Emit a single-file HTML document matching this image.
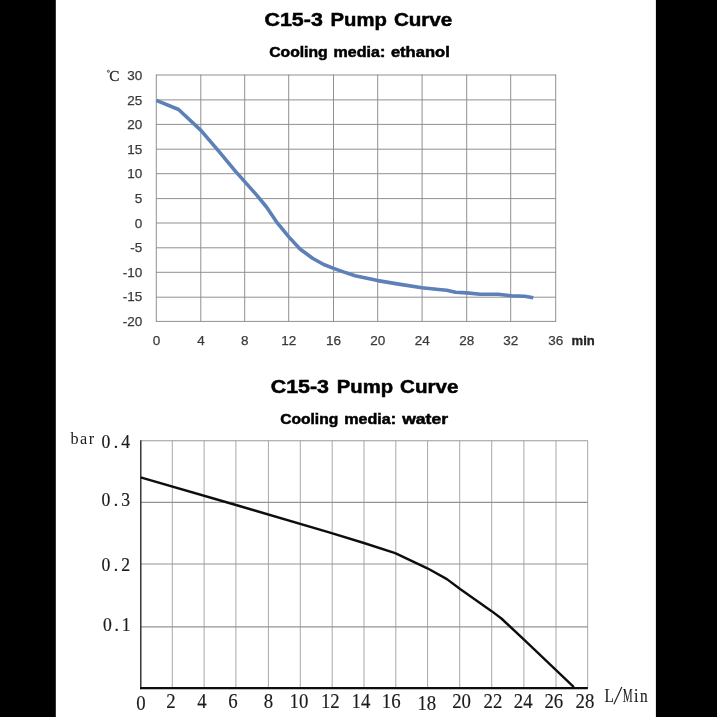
<!DOCTYPE html>
<html><head><meta charset="utf-8"><title>C15-3 Pump Curve</title>
<style>html,body{margin:0;padding:0;background:#fff;}body{width:717px;height:717px;overflow:hidden;font-family:"Liberation Sans",sans-serif;}svg{display:block;}.sans{font-family:"Liberation Sans",sans-serif;}.serif{font-family:"Liberation Serif",serif;}</style>
</head><body>
<svg width="717" height="717" viewBox="0 0 717 717">
<defs><filter id="b" x="-5%" y="-5%" width="110%" height="110%"><feGaussianBlur stdDeviation="0.45"/></filter><filter id="b2" x="-5%" y="-5%" width="110%" height="110%"><feGaussianBlur stdDeviation="0.5"/></filter></defs>
<rect x="0" y="0" width="717" height="717" fill="#fff"/>
<g filter="url(#b)">
<text class="sans" x="264.50" y="26.00" font-size="18.6" fill="#000" stroke="#000" stroke-width="0.5" font-weight="bold" textLength="58.30" lengthAdjust="spacingAndGlyphs">C15-3</text>
<text class="sans" x="330.60" y="26.00" font-size="18.6" fill="#000" stroke="#000" stroke-width="0.5" font-weight="bold" textLength="56.30" lengthAdjust="spacingAndGlyphs">Pump</text>
<text class="sans" x="393.90" y="26.00" font-size="18.6" fill="#000" stroke="#000" stroke-width="0.5" font-weight="bold" textLength="58.40" lengthAdjust="spacingAndGlyphs">Curve</text>
<text class="sans" x="269.20" y="57.00" font-size="14.2" fill="#000" stroke="#000" stroke-width="0.5" font-weight="bold" textLength="58.50" lengthAdjust="spacingAndGlyphs">Cooling</text>
<text class="sans" x="333.60" y="57.00" font-size="14.2" fill="#000" stroke="#000" stroke-width="0.5" font-weight="bold" textLength="51.70" lengthAdjust="spacingAndGlyphs">media:</text>
<text class="sans" x="390.90" y="57.00" font-size="14.2" fill="#000" stroke="#000" stroke-width="0.5" font-weight="bold" textLength="58.90" lengthAdjust="spacingAndGlyphs">ethanol</text>
<text class="sans" x="270.70" y="392.80" font-size="18.6" fill="#000" stroke="#000" stroke-width="0.5" font-weight="bold" textLength="58.30" lengthAdjust="spacingAndGlyphs">C15-3</text>
<text class="sans" x="336.80" y="392.80" font-size="18.6" fill="#000" stroke="#000" stroke-width="0.5" font-weight="bold" textLength="56.30" lengthAdjust="spacingAndGlyphs">Pump</text>
<text class="sans" x="400.10" y="392.80" font-size="18.6" fill="#000" stroke="#000" stroke-width="0.5" font-weight="bold" textLength="58.40" lengthAdjust="spacingAndGlyphs">Curve</text>
<text class="sans" x="280.20" y="423.90" font-size="14.2" fill="#000" stroke="#000" stroke-width="0.5" font-weight="bold" textLength="58.00" lengthAdjust="spacingAndGlyphs">Cooling</text>
<text class="sans" x="344.20" y="423.90" font-size="14.2" fill="#000" stroke="#000" stroke-width="0.5" font-weight="bold" textLength="51.80" lengthAdjust="spacingAndGlyphs">media:</text>
<text class="sans" x="402.20" y="423.90" font-size="14.2" fill="#000" stroke="#000" stroke-width="0.5" font-weight="bold" textLength="45.80" lengthAdjust="spacingAndGlyphs">water</text>
<line x1="156.30" y1="74.6" x2="156.30" y2="321.79999999999995" stroke="#909090" stroke-width="1.0"/>
<line x1="200.80" y1="74.6" x2="200.80" y2="321.79999999999995" stroke="#909090" stroke-width="1.0"/>
<line x1="244.70" y1="74.6" x2="244.70" y2="321.79999999999995" stroke="#909090" stroke-width="1.0"/>
<line x1="288.70" y1="74.6" x2="288.70" y2="321.79999999999995" stroke="#909090" stroke-width="1.0"/>
<line x1="333.50" y1="74.6" x2="333.50" y2="321.79999999999995" stroke="#909090" stroke-width="1.0"/>
<line x1="377.70" y1="74.6" x2="377.70" y2="321.79999999999995" stroke="#909090" stroke-width="1.0"/>
<line x1="422.10" y1="74.6" x2="422.10" y2="321.79999999999995" stroke="#909090" stroke-width="1.0"/>
<line x1="466.70" y1="74.6" x2="466.70" y2="321.79999999999995" stroke="#909090" stroke-width="1.0"/>
<line x1="510.70" y1="74.6" x2="510.70" y2="321.79999999999995" stroke="#909090" stroke-width="1.0"/>
<line x1="555.70" y1="74.6" x2="555.70" y2="321.79999999999995" stroke="#909090" stroke-width="1.0"/>
<line x1="155.9" y1="75.00" x2="556.1" y2="75.00" stroke="#909090" stroke-width="1.0"/>
<line x1="155.9" y1="99.90" x2="556.1" y2="99.90" stroke="#909090" stroke-width="1.0"/>
<line x1="155.9" y1="124.40" x2="556.1" y2="124.40" stroke="#909090" stroke-width="1.0"/>
<line x1="155.9" y1="149.20" x2="556.1" y2="149.20" stroke="#909090" stroke-width="1.0"/>
<line x1="155.9" y1="173.70" x2="556.1" y2="173.70" stroke="#909090" stroke-width="1.0"/>
<line x1="155.9" y1="198.60" x2="556.1" y2="198.60" stroke="#909090" stroke-width="1.0"/>
<line x1="155.9" y1="223.00" x2="556.1" y2="223.00" stroke="#909090" stroke-width="1.0"/>
<line x1="155.9" y1="247.80" x2="556.1" y2="247.80" stroke="#909090" stroke-width="1.0"/>
<line x1="155.9" y1="272.30" x2="556.1" y2="272.30" stroke="#909090" stroke-width="1.0"/>
<line x1="155.9" y1="297.20" x2="556.1" y2="297.20" stroke="#909090" stroke-width="1.0"/>
<line x1="155.9" y1="321.40" x2="556.1" y2="321.40" stroke="#909090" stroke-width="1.0"/>
<polyline filter="url(#b2)" fill="none" stroke="#5b80b7" stroke-width="3.6" stroke-linejoin="round" stroke-linecap="butt" points="156.3,100.4 178.6,109.5 200.9,130.4 218.3,150.7 235.1,170.9 244.9,181.9 256.7,195.1 266.5,207.0 276.3,221.6 288.8,236.9 300.0,249.0 312.5,258.2 323.7,264.5 333.6,268.4 343.4,271.9 355.1,275.7 377.7,280.6 400.3,284.4 422.0,287.8 438.8,289.5 446.7,290.2 455.6,292.2 466.8,292.9 480.2,294.2 498.0,294.2 511.4,295.8 524.8,296.2 533.3,297.8"/>
<text class="sans" transform="translate(142.30,80.10) scale(1.0,1)" font-size="13.5" text-anchor="end" fill="#3a3a3a" font-weight="normal" stroke="#3a3a3a" stroke-width="0.25">30</text>
<text class="sans" transform="translate(142.30,104.68) scale(1.0,1)" font-size="13.5" text-anchor="end" fill="#3a3a3a" font-weight="normal" stroke="#3a3a3a" stroke-width="0.25">25</text>
<text class="sans" transform="translate(142.30,129.26) scale(1.0,1)" font-size="13.5" text-anchor="end" fill="#3a3a3a" font-weight="normal" stroke="#3a3a3a" stroke-width="0.25">20</text>
<text class="sans" transform="translate(142.30,153.84) scale(1.0,1)" font-size="13.5" text-anchor="end" fill="#3a3a3a" font-weight="normal" stroke="#3a3a3a" stroke-width="0.25">15</text>
<text class="sans" transform="translate(142.30,178.42) scale(1.0,1)" font-size="13.5" text-anchor="end" fill="#3a3a3a" font-weight="normal" stroke="#3a3a3a" stroke-width="0.25">10</text>
<text class="sans" transform="translate(142.30,203.00) scale(1.0,1)" font-size="13.5" text-anchor="end" fill="#3a3a3a" font-weight="normal" stroke="#3a3a3a" stroke-width="0.25">5</text>
<text class="sans" transform="translate(142.30,227.58) scale(1.0,1)" font-size="13.5" text-anchor="end" fill="#3a3a3a" font-weight="normal" stroke="#3a3a3a" stroke-width="0.25">0</text>
<text class="sans" transform="translate(142.30,252.16) scale(1.0,1)" font-size="13.5" text-anchor="end" fill="#3a3a3a" font-weight="normal" stroke="#3a3a3a" stroke-width="0.25">-5</text>
<text class="sans" transform="translate(142.30,276.74) scale(1.0,1)" font-size="13.5" text-anchor="end" fill="#3a3a3a" font-weight="normal" stroke="#3a3a3a" stroke-width="0.25">-10</text>
<text class="sans" transform="translate(142.30,301.32) scale(1.0,1)" font-size="13.5" text-anchor="end" fill="#3a3a3a" font-weight="normal" stroke="#3a3a3a" stroke-width="0.25">-15</text>
<text class="sans" transform="translate(142.30,325.90) scale(1.0,1)" font-size="13.5" text-anchor="end" fill="#3a3a3a" font-weight="normal" stroke="#3a3a3a" stroke-width="0.25">-20</text>
<text class="sans" transform="translate(156.40,345.40) scale(1.0,1)" font-size="13.5" text-anchor="middle" fill="#3a3a3a" font-weight="normal" stroke="#3a3a3a" stroke-width="0.25">0</text>
<text class="sans" transform="translate(200.90,345.40) scale(1.0,1)" font-size="13.5" text-anchor="middle" fill="#3a3a3a" font-weight="normal" stroke="#3a3a3a" stroke-width="0.25">4</text>
<text class="sans" transform="translate(244.80,345.40) scale(1.0,1)" font-size="13.5" text-anchor="middle" fill="#3a3a3a" font-weight="normal" stroke="#3a3a3a" stroke-width="0.25">8</text>
<text class="sans" transform="translate(288.80,345.40) scale(1.0,1)" font-size="13.5" text-anchor="middle" fill="#3a3a3a" font-weight="normal" stroke="#3a3a3a" stroke-width="0.25">12</text>
<text class="sans" transform="translate(333.60,345.40) scale(1.0,1)" font-size="13.5" text-anchor="middle" fill="#3a3a3a" font-weight="normal" stroke="#3a3a3a" stroke-width="0.25">16</text>
<text class="sans" transform="translate(377.80,345.40) scale(1.0,1)" font-size="13.5" text-anchor="middle" fill="#3a3a3a" font-weight="normal" stroke="#3a3a3a" stroke-width="0.25">20</text>
<text class="sans" transform="translate(422.20,345.40) scale(1.0,1)" font-size="13.5" text-anchor="middle" fill="#3a3a3a" font-weight="normal" stroke="#3a3a3a" stroke-width="0.25">24</text>
<text class="sans" transform="translate(466.80,345.40) scale(1.0,1)" font-size="13.5" text-anchor="middle" fill="#3a3a3a" font-weight="normal" stroke="#3a3a3a" stroke-width="0.25">28</text>
<text class="sans" transform="translate(510.80,345.40) scale(1.0,1)" font-size="13.5" text-anchor="middle" fill="#3a3a3a" font-weight="normal" stroke="#3a3a3a" stroke-width="0.25">32</text>
<text class="sans" transform="translate(555.80,345.40) scale(1.0,1)" font-size="13.5" text-anchor="middle" fill="#3a3a3a" font-weight="normal" stroke="#3a3a3a" stroke-width="0.25">36</text>
<text class="sans" x="571.6" y="344.6" font-size="12.6" fill="#222" stroke="#222" stroke-width="0.3" font-weight="bold" textLength="23.2" lengthAdjust="spacingAndGlyphs">min</text>
<circle cx="108.4" cy="71.3" r="1.0" fill="none" stroke="#333" stroke-width="0.9"/>
<text class="serif" transform="translate(109.20,80.80) scale(0.98,1)" font-size="15.5" text-anchor="start" fill="#2a2a2a" font-weight="normal" stroke="#2a2a2a" stroke-width="0.3">C</text>
<line x1="172.30" y1="440.7" x2="172.30" y2="688.15" stroke="#a8a8a8" stroke-width="1.0"/>
<line x1="204.10" y1="440.7" x2="204.10" y2="688.15" stroke="#a8a8a8" stroke-width="1.0"/>
<line x1="235.90" y1="440.7" x2="235.90" y2="688.15" stroke="#a8a8a8" stroke-width="1.0"/>
<line x1="268.40" y1="440.7" x2="268.40" y2="688.15" stroke="#a8a8a8" stroke-width="1.0"/>
<line x1="300.30" y1="440.7" x2="300.30" y2="688.15" stroke="#a8a8a8" stroke-width="1.0"/>
<line x1="332.20" y1="440.7" x2="332.20" y2="688.15" stroke="#a8a8a8" stroke-width="1.0"/>
<line x1="364.00" y1="440.7" x2="364.00" y2="688.15" stroke="#a8a8a8" stroke-width="1.0"/>
<line x1="395.80" y1="440.7" x2="395.80" y2="688.15" stroke="#a8a8a8" stroke-width="1.0"/>
<line x1="427.60" y1="440.7" x2="427.60" y2="688.15" stroke="#a8a8a8" stroke-width="1.0"/>
<line x1="459.70" y1="440.7" x2="459.70" y2="688.15" stroke="#a8a8a8" stroke-width="1.0"/>
<line x1="491.70" y1="440.7" x2="491.70" y2="688.15" stroke="#a8a8a8" stroke-width="1.0"/>
<line x1="523.90" y1="440.7" x2="523.90" y2="688.15" stroke="#a8a8a8" stroke-width="1.0"/>
<line x1="556.00" y1="440.7" x2="556.00" y2="688.15" stroke="#a8a8a8" stroke-width="1.0"/>
<line x1="587.70" y1="440.7" x2="587.70" y2="688.15" stroke="#a8a8a8" stroke-width="1.0"/>
<line x1="140.9" y1="440.70" x2="587.9" y2="440.70" stroke="#9a9a9a" stroke-width="1.15"/>
<line x1="140.9" y1="502.30" x2="587.9" y2="502.30" stroke="#949494" stroke-width="1.15"/>
<line x1="140.9" y1="564.00" x2="587.9" y2="564.00" stroke="#949494" stroke-width="1.15"/>
<line x1="140.9" y1="626.80" x2="587.9" y2="626.80" stroke="#949494" stroke-width="1.15"/>
<line x1="140.8" y1="440.2" x2="140.8" y2="689.15" stroke="#1c1c1c" stroke-width="1.3"/>
<line x1="140.1" y1="688.15" x2="587.9" y2="688.15" stroke="#111" stroke-width="2.4"/>
<polyline fill="none" stroke="#111" stroke-width="2.4" stroke-linejoin="round" points="140.6,477.4 236.0,505.0 330.0,532.6 363.9,543.0 395.2,553.1 427.4,568.3 446.9,579.1 460.1,589.0 491.3,610.9 501.4,618.5 524.8,640.3 573.9,687.2"/>
<text class="serif" transform="translate(141.00,709.50) scale(0.94,1)" font-size="20" text-anchor="middle" fill="#1a1a1a" font-weight="normal" stroke="#1a1a1a" stroke-width="0.15">0</text>
<text class="serif" transform="translate(170.90,708.20) scale(0.94,1)" font-size="20" text-anchor="middle" fill="#1a1a1a" font-weight="normal" stroke="#1a1a1a" stroke-width="0.15">2</text>
<text class="serif" transform="translate(202.00,708.20) scale(0.94,1)" font-size="20" text-anchor="middle" fill="#1a1a1a" font-weight="normal" stroke="#1a1a1a" stroke-width="0.15">4</text>
<text class="serif" transform="translate(232.90,708.20) scale(0.94,1)" font-size="20" text-anchor="middle" fill="#1a1a1a" font-weight="normal" stroke="#1a1a1a" stroke-width="0.15">6</text>
<text class="serif" transform="translate(268.40,708.20) scale(0.94,1)" font-size="20" text-anchor="middle" fill="#1a1a1a" font-weight="normal" stroke="#1a1a1a" stroke-width="0.15">8</text>
<text class="serif" transform="translate(299.00,708.20) scale(0.94,1)" font-size="20" text-anchor="middle" fill="#1a1a1a" font-weight="normal" stroke="#1a1a1a" stroke-width="0.15">10</text>
<text class="serif" transform="translate(330.30,708.20) scale(0.94,1)" font-size="20" text-anchor="middle" fill="#1a1a1a" font-weight="normal" stroke="#1a1a1a" stroke-width="0.15">12</text>
<text class="serif" transform="translate(361.00,708.20) scale(0.94,1)" font-size="20" text-anchor="middle" fill="#1a1a1a" font-weight="normal" stroke="#1a1a1a" stroke-width="0.15">14</text>
<text class="serif" transform="translate(391.20,708.20) scale(0.94,1)" font-size="20" text-anchor="middle" fill="#1a1a1a" font-weight="normal" stroke="#1a1a1a" stroke-width="0.15">16</text>
<text class="serif" transform="translate(426.80,709.70) scale(0.94,1)" font-size="20" text-anchor="middle" fill="#1a1a1a" font-weight="normal" stroke="#1a1a1a" stroke-width="0.15">18</text>
<text class="serif" transform="translate(461.60,708.20) scale(0.94,1)" font-size="20" text-anchor="middle" fill="#1a1a1a" font-weight="normal" stroke="#1a1a1a" stroke-width="0.15">20</text>
<text class="serif" transform="translate(492.90,708.20) scale(0.94,1)" font-size="20" text-anchor="middle" fill="#1a1a1a" font-weight="normal" stroke="#1a1a1a" stroke-width="0.15">22</text>
<text class="serif" transform="translate(523.20,708.20) scale(0.94,1)" font-size="20" text-anchor="middle" fill="#1a1a1a" font-weight="normal" stroke="#1a1a1a" stroke-width="0.15">24</text>
<text class="serif" transform="translate(553.80,708.20) scale(0.94,1)" font-size="20" text-anchor="middle" fill="#1a1a1a" font-weight="normal" stroke="#1a1a1a" stroke-width="0.15">26</text>
<text class="serif" transform="translate(585.00,708.20) scale(0.94,1)" font-size="20" text-anchor="middle" fill="#1a1a1a" font-weight="normal" stroke="#1a1a1a" stroke-width="0.15">28</text>
<text class="serif" transform="translate(106.00,448.20) scale(0.9,1)" font-size="19.6" text-anchor="middle" fill="#1a1a1a" font-weight="normal" stroke="#1a1a1a" stroke-width="0.2">0</text>
<text class="serif" transform="translate(116.00,448.20) scale(0.9,1)" font-size="19.6" text-anchor="middle" fill="#1a1a1a" font-weight="normal" stroke="#1a1a1a" stroke-width="0.2">.</text>
<text class="serif" transform="translate(125.60,448.20) scale(0.9,1)" font-size="19.6" text-anchor="middle" fill="#1a1a1a" font-weight="normal" stroke="#1a1a1a" stroke-width="0.2">4</text>
<text class="serif" transform="translate(106.00,505.90) scale(0.9,1)" font-size="19.6" text-anchor="middle" fill="#1a1a1a" font-weight="normal" stroke="#1a1a1a" stroke-width="0.2">0</text>
<text class="serif" transform="translate(116.00,505.90) scale(0.9,1)" font-size="19.6" text-anchor="middle" fill="#1a1a1a" font-weight="normal" stroke="#1a1a1a" stroke-width="0.2">.</text>
<text class="serif" transform="translate(125.60,505.90) scale(0.9,1)" font-size="19.6" text-anchor="middle" fill="#1a1a1a" font-weight="normal" stroke="#1a1a1a" stroke-width="0.2">3</text>
<text class="serif" transform="translate(106.00,571.20) scale(0.9,1)" font-size="19.6" text-anchor="middle" fill="#1a1a1a" font-weight="normal" stroke="#1a1a1a" stroke-width="0.2">0</text>
<text class="serif" transform="translate(116.00,571.20) scale(0.9,1)" font-size="19.6" text-anchor="middle" fill="#1a1a1a" font-weight="normal" stroke="#1a1a1a" stroke-width="0.2">.</text>
<text class="serif" transform="translate(125.60,571.20) scale(0.9,1)" font-size="19.6" text-anchor="middle" fill="#1a1a1a" font-weight="normal" stroke="#1a1a1a" stroke-width="0.2">2</text>
<text class="serif" transform="translate(107.40,630.90) scale(0.9,1)" font-size="19.6" text-anchor="middle" fill="#1a1a1a" font-weight="normal" stroke="#1a1a1a" stroke-width="0.2">0</text>
<text class="serif" transform="translate(116.70,630.90) scale(0.9,1)" font-size="19.6" text-anchor="middle" fill="#1a1a1a" font-weight="normal" stroke="#1a1a1a" stroke-width="0.2">.</text>
<text class="serif" transform="translate(126.07,630.90) scale(0.9,1)" font-size="19.6" text-anchor="middle" fill="#1a1a1a" font-weight="normal" stroke="#1a1a1a" stroke-width="0.2">1</text>
<text class="serif" transform="translate(70.40,443.80) scale(1.0,1)" font-size="16.2" text-anchor="start" fill="#1a1a1a" font-weight="normal" letter-spacing="1.5">bar</text>
<text class="serif" transform="translate(609.20,702.30) scale(0.85,1)" font-size="18" text-anchor="middle" fill="#1a1a1a" font-weight="normal" stroke="#1a1a1a" stroke-width="0.15">L</text>
<text class="serif" transform="translate(627.60,702.30) scale(0.62,1)" font-size="18" text-anchor="middle" fill="#1a1a1a" font-weight="normal" stroke="#1a1a1a" stroke-width="0.15">M</text>
<text class="serif" transform="translate(636.30,702.30) scale(0.9,1)" font-size="18" text-anchor="middle" fill="#1a1a1a" font-weight="normal" stroke="#1a1a1a" stroke-width="0.15">i</text>
<text class="serif" transform="translate(643.90,702.30) scale(0.85,1)" font-size="18" text-anchor="middle" fill="#1a1a1a" font-weight="normal" stroke="#1a1a1a" stroke-width="0.15">n</text>
<line x1="613.9" y1="704.2" x2="621.8" y2="687.0" stroke="#1a1a1a" stroke-width="1.1"/>
</g>
<rect x="0" y="0" width="55.8" height="717" fill="#000"/>
<rect x="655.9" y="0" width="61.1" height="717" fill="#000"/>
</svg>
</body></html>
